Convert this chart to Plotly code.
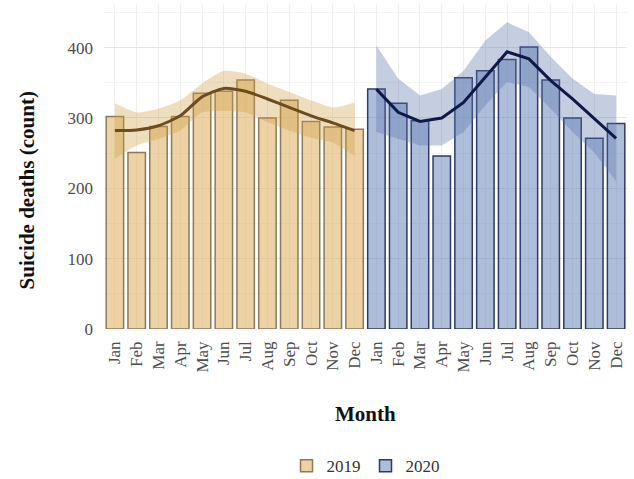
import plotly.graph_objects as go

months = ["Jan", "Feb", "Mar", "Apr", "May", "Jun", "Jul", "Aug", "Sep", "Oct", "Nov", "Dec"]
deaths_2019 = [302, 251, 288, 302, 335, 338, 354, 300, 325, 295, 287, 284]
deaths_2020 = [341, 321, 296, 246, 357, 367, 383, 401, 354, 300, 271, 292]
trend_2019 = [282, 283, 289, 303, 330, 342, 338, 327, 315, 303, 293, 282]
upper_2019 = [321, 308, 313, 325, 349, 367, 363, 349, 337, 325, 315, 322]
lower_2019 = [242, 261, 270, 282, 308, 310, 308, 294, 282, 272, 265, 246]
trend_2020 = [341, 308, 295, 300, 322, 358, 394, 384, 353, 327, 299, 271]
upper_2020 = [403, 356, 332, 341, 367, 410, 436, 422, 387, 356, 334, 332]
lower_2020 = [280, 270, 261, 261, 280, 318, 351, 344, 313, 280, 251, 210]

x19 = list(range(12))
x20 = list(range(12, 24))
serif = "Liberation Serif, Times New Roman, serif"

fig = go.Figure()
fig.add_trace(go.Bar(x=x19, y=deaths_2019, width=0.8, name="2019", legendgroup="2019",
                     marker=dict(color="rgba(222,178,100,0.58)", line=dict(color="#8C7A5B", width=1.5))))
fig.add_trace(go.Bar(x=x20, y=deaths_2020, width=0.8, name="2020", legendgroup="2020",
                     marker=dict(color="rgba(100,130,185,0.52)", line=dict(color="#2F3A66", width=1.5))))
# ribbons
fig.add_trace(go.Scatter(x=x19, y=lower_2019, mode="lines", line=dict(width=0, shape="spline", smoothing=0.6),
                         showlegend=False, hoverinfo="skip"))
fig.add_trace(go.Scatter(x=x19, y=upper_2019, mode="lines", fill="tonexty",
                         fillcolor="rgba(210,160,70,0.35)", line=dict(width=0, shape="spline", smoothing=0.6),
                         showlegend=False, hoverinfo="skip"))
fig.add_trace(go.Scatter(x=x20, y=lower_2020, mode="lines", line=dict(width=0),
                         showlegend=False, hoverinfo="skip"))
fig.add_trace(go.Scatter(x=x20, y=upper_2020, mode="lines", fill="tonexty",
                         fillcolor="rgba(90,115,170,0.35)", line=dict(width=0),
                         showlegend=False, hoverinfo="skip"))
fig.add_trace(go.Scatter(x=x19, y=trend_2019, mode="lines", showlegend=False,
                         line=dict(color="#6B4C1E", width=3, shape="spline", smoothing=0.6)))
fig.add_trace(go.Scatter(x=x20, y=trend_2020, mode="lines", showlegend=False,
                         line=dict(color="#0F1848", width=3)))

fig.update_layout(
    width=634, height=479,
    margin=dict(l=104, r=7, t=4, b=150, autoexpand=False),
    plot_bgcolor="white", paper_bgcolor="white",
    barmode="overlay",
    font=dict(family=serif, color="#4d4d4d", size=15),
    showlegend=True,
    legend=dict(orientation="h", x=0.5, xanchor="center", y=-0.422, yanchor="middle",
                font=dict(family=serif, size=17, color="#333333"), traceorder="normal"),
    xaxis=dict(range=[-0.5, 23.5], tickmode="array", tickvals=x19 + x20, ticktext=months + months,
               tickangle=-90, showgrid=True, gridcolor="#eeeeee", zeroline=False, automargin=False,
               showline=False, ticks="", ticklabelstandoff=8,
               tickfont=dict(family=serif, size=17, color="#4d4d4d")),
    yaxis=dict(range=[0, 462], tickvals=[0, 100, 200, 300, 400], showgrid=True, gridcolor="#e6e6e6",
               minor=dict(dtick=50, showgrid=True, gridcolor="#f3f3f3"), automargin=False,
               zeroline=False, showline=False, ticks="", ticklabelstandoff=10,
               tickfont=dict(family=serif, size=17, color="#4d4d4d")),
    annotations=[
        dict(text="<b>Month</b>", xref="paper", yref="paper", x=0.5, y=-0.262, xanchor="center",
             yanchor="middle", showarrow=False, font=dict(family=serif, size=21, color="#111111")),
        dict(text="<b>Suicide deaths (count)</b>", xref="paper", yref="paper", x=-0.148, y=0.425,
             xanchor="center", yanchor="middle", textangle=-90, showarrow=False,
             font=dict(family=serif, size=21, color="#111111")),
    ],
)

fig.write_html("out.html")
